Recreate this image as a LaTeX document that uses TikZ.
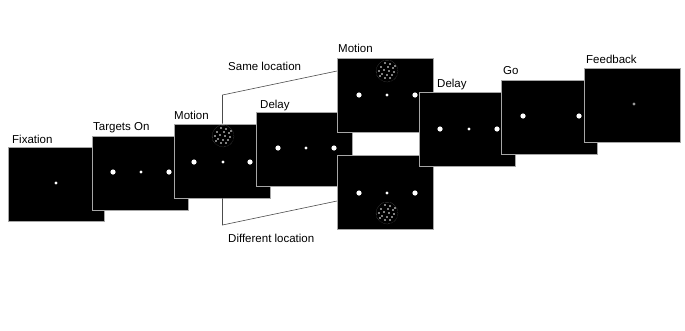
\documentclass[tikz,border=0pt]{standalone}
\usepackage{fontspec}
\setmainfont{Liberation Sans}
\begin{document}
\begin{tikzpicture}[x=1pt,y=-1pt,
  screen/.style={draw=gray!70, line width=0.8pt, fill=black, minimum width=96pt, minimum height=74pt, inner sep=0pt},
  lbl/.style={anchor=base west, inner sep=0pt, font=\fontsize{11.5}{13}\selectfont},
  conn/.style={draw=gray!60!black, line width=0.6pt}]
\newcommand{\bigdot}[2]{\fill[white] (#1,#2) circle (2.6);}
\newcommand{\smalldot}[2]{\fill[white] (#1,#2) circle (1.6);}
\newcommand{\mypatch}[2]{\begin{scope}[shift={(#1,#2)}]
  \draw[gray!70, line width=0.3pt, densely dotted] (0,0) circle (11);
  \foreach \p in {(-2,-8),(3,-7),(-6,-4),(1,-4),(6,-3),(-8,0),(-3,-1),(2,0),(7,1),(-5,3),(0,4),(5,4),(-2,7),(3,7),(-7,5),(8,-5)}
    \fill[white] \p circle (0.8);
  \end{scope}}
\useasboundingbox (0,0) rectangle (685,330);
% frames
\node[screen] (fix) at (56.5,184) {};
\smalldot{56}{183}
\node[lbl] (lfix) at (12,143) {Fixation};

\node[screen] (tgt) at (140,173) {};
\bigdot{113}{172}\smalldot{141}{172}\bigdot{169}{172}
\node[lbl] (ltgt) at (93,130) {Targets On};

\node[screen] (mot) at (222.5,161) {};
\bigdot{194}{162}\smalldot{223}{162}\bigdot{250}{162}
\mypatch{223}{136}
\node[lbl] (lmot) at (174,119) {Motion};

\node[screen] (del) at (304.5,149) {};
\bigdot{278}{148}\smalldot{306}{148}\bigdot{334}{148}
\node[lbl] (ldel) at (260,108) {Delay};

% connectors
\coordinate (cu) at (222.5,95);
\coordinate (cd) at (222.5,225);
\coordinate (su) at (337,71);
\coordinate (sd) at (337,201);
\draw[conn] (mot.north) -- (cu) -- (su);
\draw[conn] (mot.south) -- (cd) -- (sd);
\node[lbl] (lsame) at (228,70) {Same location};
\node[lbl] (ldiff) at (228,242) {Different location};

\node[screen] (ms) at (385,95) {};
\bigdot{359}{95}\smalldot{387}{95}\bigdot{415}{95}
\mypatch{387}{71}
\node[lbl] (lms) at (338,52) {Motion};

\node[screen] (md) at (385,192) {};
\bigdot{359}{193}\smalldot{387}{193}\bigdot{415}{193}
\mypatch{387}{213}

\node[screen] (del2) at (467.5,129.5) {};
\bigdot{440}{129}\smalldot{469}{129}\bigdot{497}{129}
\node[lbl] (ldel2) at (437,87) {Delay};

\node[screen] (go) at (549,117) {};
\bigdot{523}{116}\bigdot{579}{116}
\node[lbl] (lgo) at (503,74) {Go};

\node[screen] (fb) at (632,105) {};
\fill[gray!80] (634,104) circle (1.6);
\node[lbl] (lfb) at (586,63) {Feedback};
\end{tikzpicture}
\end{document}
